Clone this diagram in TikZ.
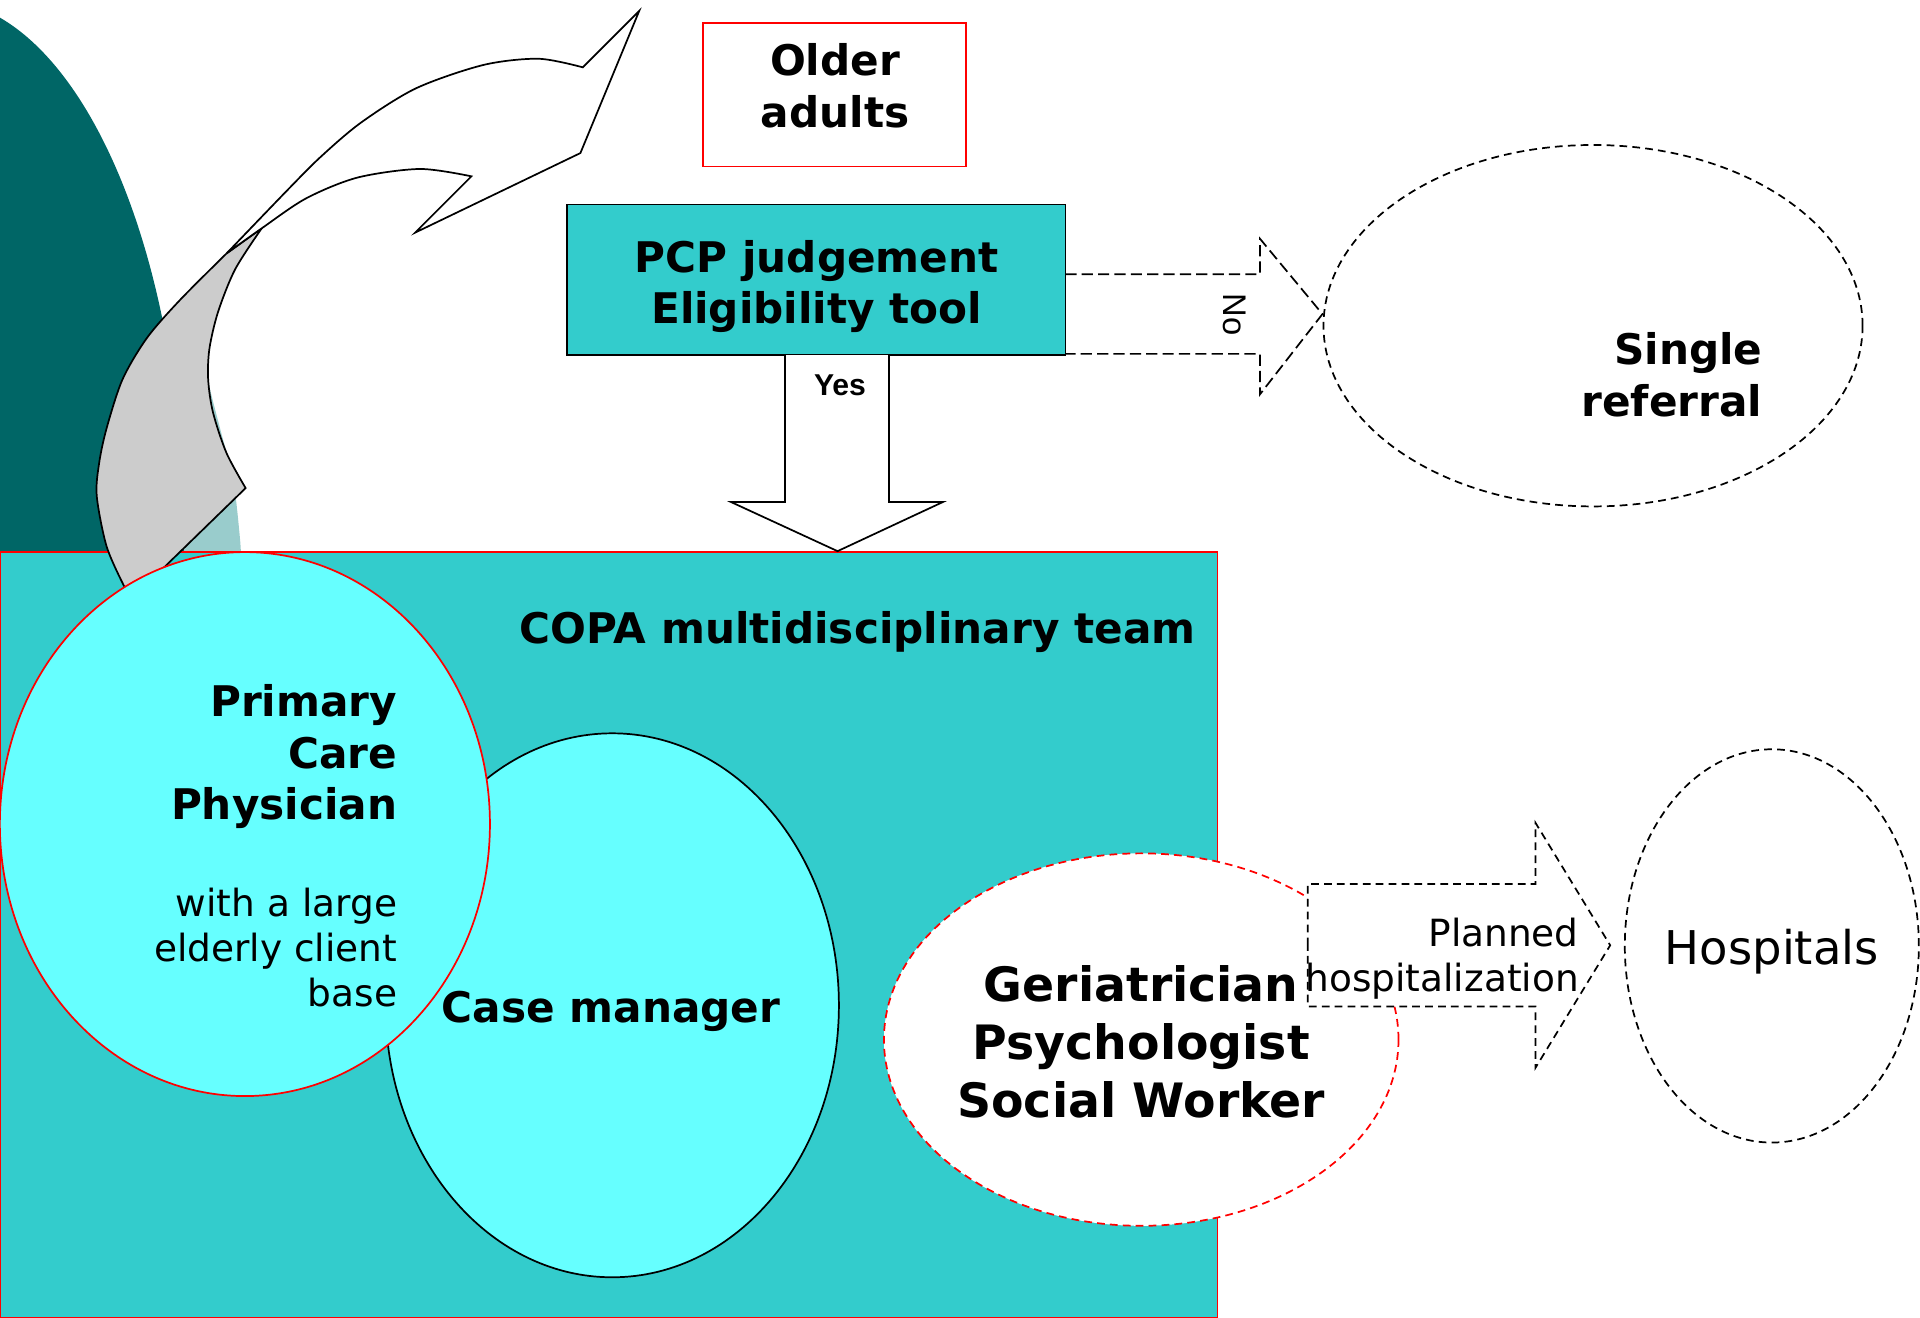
\documentclass[tikz,border=0pt]{standalone}
\usepackage{fontspec}
\setmainfont{DejaVu Sans}
\newfontfamily\tagfont{Liberation Sans}
\usepackage{tikz}
\usepackage{xcolor}
\usetikzlibrary{shapes.geometric, positioning, calc}
\definecolor{darkteal}{HTML}{006666}
\definecolor{paleteal}{HTML}{99CCCC}
\definecolor{boxteal}{HTML}{33CCCC}
\definecolor{circlecyan}{HTML}{66FFFF}
\definecolor{backgrey}{HTML}{CCCCCC}

\begin{document}
\begin{tikzpicture}[x=0.01cm,y=-0.01cm,
      headtext/.style={font=\fontsize{9.8}{11.95}\selectfont\bfseries,inner sep=0pt},
      bigtext/.style={font=\fontsize{11}{13.4}\selectfont\bfseries,inner sep=0pt},
      smalltext/.style={font=\fontsize{8.7}{10.5}\selectfont,inner sep=0pt},
      tagtext/.style={font=\tagfont\fontsize{7}{8}\selectfont\bfseries,inner sep=0pt},
      blockarrow/.style={draw=black,line join=miter},
      dashline/.style={dash pattern=on 1.8pt off 1.2pt},
      oval/.style={ellipse,inner sep=0pt}]

      \useasboundingbox (0,0) rectangle (1568,1076);

      % Background shapes
      \fill[paleteal] (168,300) -- plot[smooth] coordinates {(168,300) (172,320) (180,351) (190.5,392) (196,440) (197,460)} -- (120,460) -- cycle;
      \fill[darkteal] (-52,440) ellipse [x radius=2.02cm, y radius=4.4cm];

      % COPA team
      \node[draw=red,fill=boxteal,minimum width=9.94cm,minimum height=6.25cm,inner sep=0pt] (copa) at (497,763.5) {};

      % Curved arrow: back face, then front face
      \filldraw[fill=backgrey,line join=miter] (213.7,186.5) -- (185,207) -- plot[smooth] coordinates {(185,207) (147,245) (120,276) (100,310) (87,350) (81,378) (79,405) (87,446) (101,478) (106,485)} -- (121,476) -- (200.6,398.6) -- plot[smooth] coordinates {(200.6,398.6) (185,370) (174,337) (170,310) (171,285) (178,255) (192,220) (213.7,186.5)} -- cycle;
      \filldraw[fill=white,line join=miter] (185,207) -- plot[smooth] coordinates {(185,207) (235,155) (262,128) (295,100) (340,72) (395,53) (440,48) (476,55)} -- (522,9) -- (474,125) -- (339,190) -- (385,144) -- plot[smooth] coordinates {(385,144) (343,138) (292,145) (250,162) (213.7,186.5) (185,207)} -- cycle;

      % Boxes
      \node[draw=red,fill=white,minimum width=2.15cm,minimum height=1.17cm,inner sep=0pt] (older) at (681.5,77.5) {};
      \node[headtext,align=center] (oldertxt) at (682,70) {Older\\adults};
      \node[draw=black,fill=boxteal,minimum width=4.07cm,minimum height=1.23cm,inner sep=0pt] (pcp) at (666.5,228.5) {};
      \node[headtext,align=center] (pcptxt) at (667,234) {PCP judgement\\Eligibility tool};

      % Single referral
      \node[oval,draw,dashline,minimum width=4.4cm,minimum height=2.95cm] (single) at (1301,266) {};
      \node[headtext,align=right,anchor=east] (singletxt) at (1440,306) {Single\\referral};

      % Yes arrow
      \coordinate (yesbase) at (684,290);
      \filldraw[blockarrow,fill=white] ($(yesbase)+(-43,0)$) -- ++(0,120) -- ++(-44,0) -- (yesbase |- copa.north) -- ($(yesbase)+(86,120)$) -- ++(-44,0) -- ($(yesbase)+(42,0)$);
      \node[tagtext] (yes) at (686,315) {Yes};

      % No arrow
      \coordinate (nobase) at (870,256.5);
      \coordinate (notip) at (1080,256.5);
      \draw[blockarrow,dash pattern=on 2.6pt off 1.2pt] ($(nobase)+(0,-32.5)$) -- ($(nobase)+(159,-32.5)$) -- ($(nobase)+(159,-61.5)$) -- (notip) -- ($(nobase)+(159,65.5)$) -- ($(nobase)+(159,32.5)$) -- ($(nobase)+(0,32.5)$);
      \node[font=\tagfont\fontsize{7.6}{8}\selectfont,inner sep=0pt,rotate=-90] (no) at (1008,257) {No};

      % Team members
      \node[oval,draw=black,fill=circlecyan,minimum width=3.7cm,minimum height=4.44cm] (cm) at (500,821) {};
      \node[oval,draw=red,fill=circlecyan,minimum width=4cm,minimum height=4.44cm] (gp) at (200,673) {};
      \node[oval,draw=red,dashline,fill=white,minimum width=4.2cm,minimum height=3.04cm] (geri) at (932,849) {};

      % Planned hospitalization arrow
      \coordinate (planbase) at (1068,772);
      \coordinate (plantip) at (1315,772);
      \filldraw[blockarrow,dashline,fill=white] (planbase) -- ++(0,-50) -- ++(186,0) -- ++(0,-50) -- (plantip) -- ($(planbase)+(186,100)$) -- ++(0,-50) -- ++(-186,0) -- cycle;

      % Hospitals
      \node[oval,draw,dashline,minimum width=2.4cm,minimum height=3.21cm] (hosp) at (1447,772.5) {};

      % Texts
      \node[headtext,anchor=east] (copatxt) at (977,516) {COPA multidisciplinary team};
      \node[headtext,align=right,anchor=east] (gptxt) at (325,618) {Primary\\Care\\Physician};
      \node[smalltext,align=right,anchor=east] (gpsub) at (325,774) {with a large\\elderly client\\base};
      \node[headtext] (cmtxt) at (499,826) {Case manager};
      \node[bigtext,align=center] (geritxt) at (932,851) {Geriatrician\\Psychologist\\Social Worker};
      \node[smalltext,align=right,anchor=east] (plantxt) at (1290,783) {Planned\\hospitalization};
      \node[font=\fontsize{10.8}{12.6}\selectfont,inner sep=0pt] (hosptxt) at (1447,777) {Hospitals};
\end{tikzpicture}
\end{document}
